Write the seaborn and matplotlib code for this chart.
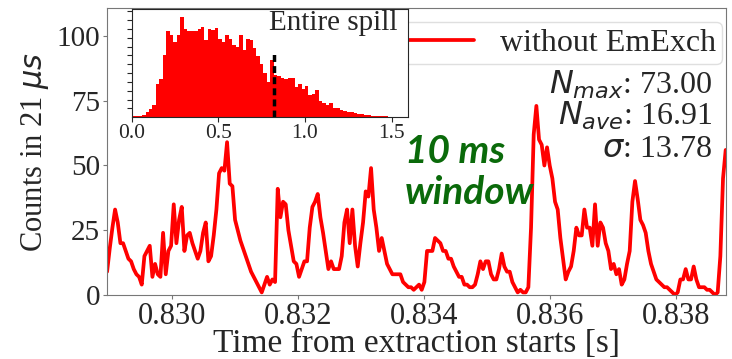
import matplotlib
matplotlib.use('Agg')

import numpy as np
import pandas as pd
import matplotlib.pyplot as plt
import seaborn as sns

# ==========================================
# DATA
# ==========================================
# counts per bin in the 10 ms window, regular sampling from t_start
t_start = 0.828971
t_step = 42.33e-6
counts = [
    9, 18, 26, 33, 28, 20, 20, 17, 14, 13,
    10, 8, 7, 4, 15, 17, 19, 7, 12, 8,
    7, 24, 8, 17, 19, 35, 20, 29, 34, 17,
    23, 24, 20, 17, 14, 17, 24, 28, 13, 15,
    23, 33, 47, 49, 48, 59, 43, 42, 29, 25,
    21, 18, 15, 12, 9, 7, 5, 3, 1,
    4, 7, 4, 6, 5, 41, 30, 36, 35, 25,
    19, 13, 12, 7, 10, 13, 13, 26, 34, 36,
    39, 30, 24, 17, 10, 13, 10, 10, 10, 15,
    28, 33, 20, 33, 19, 11, 20, 28, 40, 38,
    49, 33, 26, 17, 22, 17, 12, 10, 8, 8,
    8, 8, 5, 4, 3, 3, 2, 3,
    4, 2, 5, 17, 17, 17, 22, 21, 20, 17,
    17, 14, 14, 11, 9, 7, 7, 4, 4, 3,
    3, 4, 8, 13, 10, 13, 13, 8, 6, 6,
    10, 16, 11, 9, 9, 5, 3, 1, 2, 1,
    1, 3, 26, 62, 73, 60, 58, 50, 57, 50,
    45, 36, 33, 22, 14, 6, 9, 11,
    17, 26, 23, 23, 33, 26, 26, 19, 35, 19,
    28, 26, 20, 17, 10, 12, 8, 10, 4, 6,
    12, 17, 36, 44, 37, 29, 27, 24, 17, 12,
    9, 6, 5, 4, 3, 3, 2, 1, 0, 1,
    6, 6, 10, 6, 6, 11, 6, 3, 3, 3,
    2, 2, 1, 0, 1, 15, 45, 56,
]

# entire spill histogram (arbitrary units), bins of 0.02 s
hist_bin = 0.02
hist_heights = [
    0.1, 0.1, 0.15, 0.3, 0.6, 0.9, 1.4, 3.8, 4.3, 7.0,
    9.8, 9.3, 8.5, 9.3, 11.4, 10.0, 9.8, 9.8, 9.8, 10.0,
    10.2, 8.7, 10.0, 9.9, 10.1, 8.9, 8.5, 9.3, 8.9, 8.2,
    7.9, 9.3, 7.6, 8.9, 8.8, 7.8, 6.9, 6.0, 5.0, 4.0,
    6.5, 4.8, 4.7, 4.5, 4.3, 4.5, 4.5, 3.4, 3.8, 3.2,
    3.5, 2.5, 2.6, 3.1, 1.8, 1.6, 1.4, 1.6, 1.1, 1.1,
    0.8, 0.7, 0.6, 0.55, 0.45, 0.4, 0.35, 0.3, 0.25, 0.2,
    0.18, 0.15, 0.12, 0.1, 0.08, 0.06, 0.05, 0.03, 0.02, 0.01,
]
window_pos = 0.822
window_height = 7.3

stats_lines = [r"$N_{max}$: 73.00", r"$N_{ave}$: 16.91", r"$\sigma$: 13.78"]

# ==========================================
# STYLE
# ==========================================
sns.set_style("ticks")
plt.rcParams['font.family'] = ['Liberation Serif', 'DejaVu Serif']
plt.rcParams['mathtext.fontset'] = 'dejavusans'

t = t_start + t_step * np.arange(len(counts))
n_bins = len(hist_heights)
hist_df = pd.DataFrame({
    "time": (np.arange(n_bins) + 0.5) * hist_bin,
    "height": hist_heights,
})

fig = plt.figure(figsize=(7.32, 3.59), dpi=100)
ax = fig.add_axes([0.1462, 0.1783, 0.8459, 0.7994])

sns.lineplot(x=t, y=counts, color='red', lw=2.7, label='without EmExch', ax=ax)

ax.set_xlim(0.82897, 0.8388)
ax.set_ylim(0, 110.8)
ax.set_xticks([0.830, 0.832, 0.834, 0.836, 0.838])
ax.set_xticklabels(["0.830", "0.832", "0.834", "0.836", "0.838"])
ax.set_yticks([0, 25, 50, 75, 100])
ax.tick_params(labelsize=21, length=3, color='#777777', pad=2)
ax.tick_params(axis='x', labelsize=22)
for s in ax.spines.values():
    s.set_color('#777777')
ax.set_xlabel("Time from extraction starts [s]", fontsize=24, labelpad=-2)
ax.set_ylabel(r"Counts in 21 $\mu s$", fontsize=22, labelpad=4)

ax.legend(loc='upper right', bbox_to_anchor=(0.9935, 0.951), borderaxespad=0,
          fontsize=23, edgecolor='#d8d8d8', handlelength=3.0,
          borderpad=0.2, handletextpad=0.8)

for i, line in enumerate(stats_lines):
    ax.text(0.9775, [0.703, 0.592, 0.481][i], line, transform=ax.transAxes,
            ha='right', va='baseline', fontsize=23)

ax.text(0.8337, 62, "10 ms\nwindow", color='#0a6a0a', fontsize=28,
        fontweight='bold', style='italic', family=['Lato', 'DejaVu Sans'],
        ha='left', va='top', linespacing=1.2)

# ==========================================
# INSET: ENTIRE SPILL
# ==========================================
axin = fig.add_axes([0.1799, 0.6733, 0.3770, 0.3017])
sns.histplot(data=hist_df, x="time", weights="height", bins=n_bins,
             binrange=(0, n_bins * hist_bin), element='step', fill=True,
             color='red', alpha=1, linewidth=0, ax=axin)
axin.vlines(window_pos, 0, window_height, color='black', ls=(0, (2, 1.2)), lw=2.5)
axin.set_xlim(0, 1.592)
axin.set_ylim(0, 12.26)
axin.set_xticks([0.0, 0.5, 1.0, 1.5])
axin.set_xticklabels(["0.0", "0.5", "1.0", "1.5"])
axin.set_yticks(np.arange(1, 13))
axin.set_yticklabels([])
axin.set_xlabel("")
axin.set_ylabel("")
axin.tick_params(labelsize=15.5, length=3.5, pad=1)
axin.text(0.965, 0.806, "Entire spill", transform=axin.transAxes,
          ha='right', va='baseline', fontsize=21)

fig.savefig("out.png", dpi=100)
plt.close()
